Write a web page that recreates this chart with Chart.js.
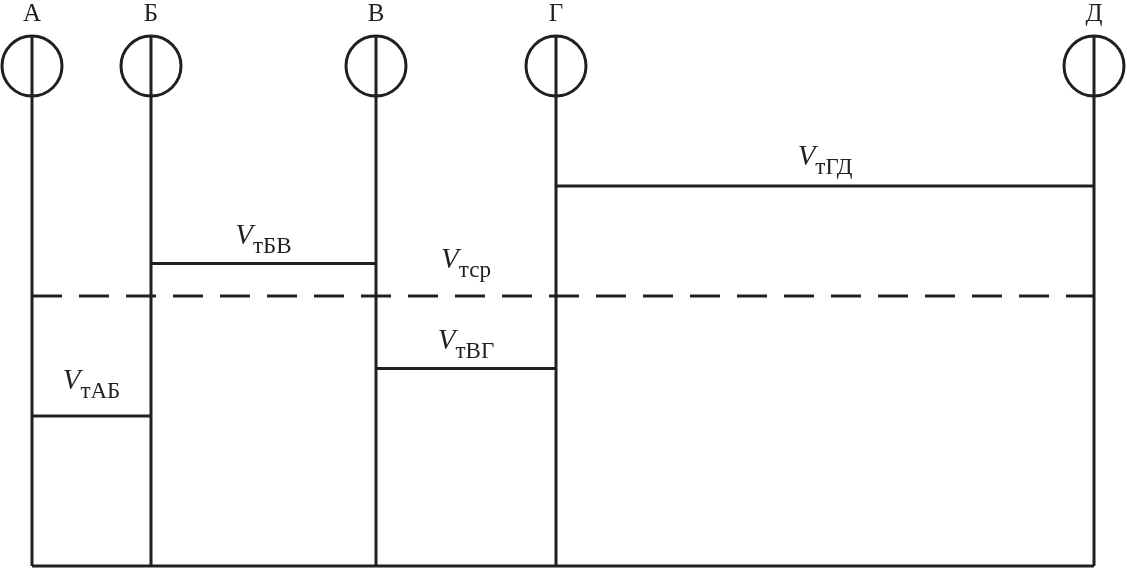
<!DOCTYPE html>
<html>
<head>
<meta charset="utf-8">
<script src="https://cdn.jsdelivr.net/npm/chart.js@4"></script>
<style>
  body { margin: 0; background: #fff; }
  canvas { display: block; }
</style>
</head>
<body>
<canvas id="speedChart" width="1127" height="568"></canvas>
<script>
// stations along the line and the distance to each one (km)
const stations = ["А", "Б", "В", "Г", "Д"]
const stationKm = [0, 11.9, 34.4, 52.4, 106.2]

// technical speed on each stretch, and the average one
const stretchNames = ["тАБ", "тБВ", "тВГ", "тГД"]
const stretchSpeed = [30, 60.5, 39.5, 76]
const averageName = "тср"
const averageSpeed = 54

const ink = "#231f20"
const topSpeed = 100 // circles sit on this level
const circleR = 30
const pxPerUnit = 5 // 500px of chart height / 100

const datasets = []

// vertical line for every station, up to the top of its circle
stationKm.forEach((km) => {
  datasets.push({
    data: [{ x: km, y: 0 }, { x: km, y: topSpeed + circleR / pxPerUnit }],
  })
})

// circles on top
datasets.push({
  data: stationKm.map((km) => ({ x: km, y: topSpeed })),
  showLine: false,
  pointRadius: circleR,
  pointBorderWidth: 3,
  pointBorderColor: ink,
  pointBackgroundColor: "rgba(0,0,0,0)",
})

// base line
datasets.push({
  data: [
    { x: stationKm[0], y: 0 },
    { x: stationKm[stationKm.length - 1], y: 0 },
  ],
})

// speed on each stretch
stretchSpeed.forEach((v, i) => {
  datasets.push({
    data: [{ x: stationKm[i], y: v }, { x: stationKm[i + 1], y: v }],
  })
})

// average speed, dashed
datasets.push({
  data: [
    { x: stationKm[0], y: averageSpeed },
    { x: stationKm[stationKm.length - 1], y: averageSpeed },
  ],
  borderDash: [30, 17],
})

datasets.forEach((ds) => {
  if (ds.showLine === undefined) ds.showLine = true
  if (ds.pointRadius === undefined) ds.pointRadius = 0
  ds.borderColor = ink
  ds.borderWidth = 3
  ds.clip = false
})

// gap between the label subscript baseline and its line (px)
const labelGap = [18, 11, 11, 12]
const averageGap = 19

function drawSpeedLabel(ctx, cx, baseY, sub) {
  ctx.font = "italic 29px 'Liberation Serif'"
  const wV = ctx.measureText("V").width
  ctx.font = "23px 'Liberation Serif'"
  const wS = ctx.measureText(sub).width
  const left = cx - (wV + wS) / 2
  ctx.font = "italic 29px 'Liberation Serif'"
  ctx.fillText("V", left, baseY - 9)
  ctx.font = "23px 'Liberation Serif'"
  ctx.fillText(sub, left + wV, baseY)
}

const labelsPlugin = {
  id: "labelsPlugin",
  afterDraw(chart) {
    const ctx = chart.ctx
    const xs = chart.scales.x
    const ys = chart.scales.y
    ctx.save()
    ctx.fillStyle = ink
    ctx.textBaseline = "alphabetic"

    // station letters
    ctx.textAlign = "center"
    ctx.font = "25px 'Liberation Serif'"
    stations.forEach((name, i) => {
      ctx.fillText(name, xs.getPixelForValue(stationKm[i]), 21)
    })

    ctx.textAlign = "left"
    stretchSpeed.forEach((v, i) => {
      const cx = (xs.getPixelForValue(stationKm[i]) + xs.getPixelForValue(stationKm[i + 1])) / 2
      drawSpeedLabel(ctx, cx, ys.getPixelForValue(v) - labelGap[i], stretchNames[i])
    })

    const cxAvg = (xs.getPixelForValue(stationKm[2]) + xs.getPixelForValue(stationKm[3])) / 2
    drawSpeedLabel(ctx, cxAvg, ys.getPixelForValue(averageSpeed) - averageGap, averageName)
    ctx.restore()
  },
}

new Chart(document.getElementById("speedChart"), {
  type: "scatter",
  data: { datasets },
  options: {
    responsive: false,
    animation: false,
    layout: { autoPadding: false, padding: { left: 32, right: 33, top: 66, bottom: 2 } },
    plugins: { legend: { display: false }, tooltip: { enabled: false } },
    scales: {
      x: { display: false, min: stationKm[0], max: stationKm[stationKm.length - 1] },
      y: { display: false, min: 0, max: topSpeed },
    },
  },
  plugins: [labelsPlugin],
})
</script>
</body>
</html>
